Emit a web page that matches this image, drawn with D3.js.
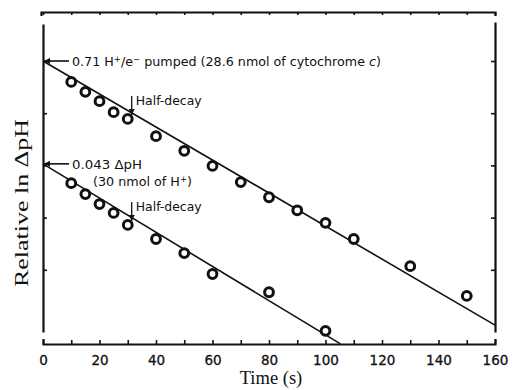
<!DOCTYPE html>
<html>
<head>
<meta charset="utf-8">
<script src="https://cdn.jsdelivr.net/npm/d3@7"></script>
<style>
  body { margin: 0; background: #fff; }
  svg { display: block; }
</style>
</head>
<body>
<div id="chart"></div>
<script>
// time points (s) and relative ln dpH
var timeUpper = [10, 15, 20, 25, 30, 40, 50, 60, 70, 80, 90, 100, 110, 130, 150];
var lnUpper = [4.60, 4.41, 4.23, 4.02, 3.89, 3.56, 3.28, 2.99, 2.68, 2.39, 2.14, 1.90, 1.59, 1.07, 0.50];
var timeLower = [10, 15, 20, 25, 30, 40, 50, 60, 80, 100];
var lnLower = [2.66, 2.45, 2.26, 2.09, 1.86, 1.59, 1.32, 0.92, 0.57, -0.17];

// fitted lines [time, value]
var fitUpper = [[0, 5.0], [160, -0.06]];
var fitLower = [[0, 3.03], [105.3, -0.42]];
var halfDecay = [[31.4, 3.89], [31.4, 1.86]];

var xTicks = d3.range(0, 161, 10);
var yTicks = [1, 2, 3, 4, 5];

var W = 512, H = 390;
var sans = "'DejaVu Sans', Verdana, sans-serif";
var serif = "'Liberation Serif', 'Times New Roman', serif";

var svg = d3.select("#chart")
  .append("svg")
  .attr("width", W)
  .attr("height", H);

var x = d3.scaleLinear().domain([0, 160]).range([43, 495]);
var y = d3.scaleLinear().domain([0, 5]).range([322, 61]);

// axes
var xBottom = d3.axisBottom(x)
  .tickValues(xTicks)
  .tickSizeInner(-4)
  .tickSizeOuter(-5)
  .tickPadding(11)
  .tickFormat(function(d) { return d % 20 === 0 ? d : ""; });

var gb = svg.append("g")
  .attr("transform", "translate(0,344)")
  .call(xBottom);
gb.selectAll("text")
  .style("font-family", sans)
  .style("font-size", "13.5px")
  .attr("fill", "#111")
  .attr("stroke", "#111")
  .attr("stroke-width", 0.3);

var xt = x.copy().range([41, 495]).domain([x.invert(41), 160]);
svg.append("g")
  .attr("transform", "translate(0,12)")
  .call(d3.axisTop(xt).tickValues(xTicks).tickSizeInner(-3).tickSizeOuter(-4).tickFormat(""));

var ya = y.copy().domain([y.invert(332), y.invert(24)]).range([332, 24]);
svg.append("g")
  .attr("transform", "translate(43,0)")
  .call(d3.axisLeft(ya).tickValues(yTicks).tickSizeInner(-4).tickSizeOuter(0).tickFormat(""));

var yr = y.copy().domain([y.invert(332), y.invert(22)]).range([332, 22]);
svg.append("g")
  .attr("transform", "translate(495,0)")
  .call(d3.axisRight(yr).tickValues(yTicks).tickSizeInner(-4).tickSizeOuter(0).tickFormat(""));

svg.selectAll(".domain").attr("stroke", "#111").attr("stroke-width", 2.2);
svg.selectAll(".tick line").attr("stroke", "#111").attr("stroke-width", 1.6);

// axis titles
svg.append("text")
  .attr("x", 271)
  .attr("y", 384)
  .attr("text-anchor", "middle")
  .style("font-family", serif)
  .style("font-size", "18.5px")
  .attr("fill", "#111")
  .text("Time (s)");

svg.append("text")
  .attr("transform", "translate(28,203) rotate(-90)")
  .attr("text-anchor", "middle")
  .attr("textLength", 168)
  .attr("lengthAdjust", "spacingAndGlyphs")
  .style("font-family", serif)
  .style("font-size", "19.5px")
  .attr("fill", "#111")
  .text("Relative ln \u0394pH");

// fit lines
var line = d3.line()
  .x(function(d) { return x(d[0]); })
  .y(function(d) { return y(d[1]); });

[fitUpper, fitLower].forEach(function(f) {
  svg.append("path")
    .attr("d", line(f))
    .attr("fill", "none")
    .attr("stroke", "#111")
    .attr("stroke-width", 1.6);
});

// points
function drawPoints(ts, vs) {
  svg.append("g")
    .selectAll("circle")
    .data(ts)
    .enter()
    .append("circle")
    .attr("cx", function(d) { return x(d); })
    .attr("cy", function(d, i) { return y(vs[i]); })
    .attr("r", 4.4)
    .attr("fill", "#fff")
    .attr("stroke", "#111")
    .attr("stroke-width", 3);
}
drawPoints(timeUpper, lnUpper);
drawPoints(timeLower, lnLower);

// arrow markers
var defs = svg.append("defs");
defs.append("marker")
  .attr("id", "ah")
  .attr("viewBox", "0 0 10 10")
  .attr("refX", 10)
  .attr("refY", 5)
  .attr("markerWidth", 7)
  .attr("markerHeight", 6)
  .attr("markerUnits", "userSpaceOnUse")
  .attr("orient", "auto")
  .append("path")
  .attr("d", "M0,0L10,5L0,10z")
  .attr("fill", "#111");

// intercept arrows
[fitUpper[0], fitLower[0]].forEach(function(p) {
  svg.append("line")
    .attr("x1", x(0) + 26)
    .attr("x2", x(0) + 1)
    .attr("y1", y(p[1]))
    .attr("y2", y(p[1]))
    .attr("stroke", "#111")
    .attr("stroke-width", 1.6)
    .attr("marker-end", "url(#ah)");
});

// half decay arrows
halfDecay.forEach(function(p) {
  svg.append("line")
    .attr("x1", x(p[0]))
    .attr("x2", x(p[0]))
    .attr("y1", y(p[1]) - 23)
    .attr("y2", y(p[1]) - 4)
    .attr("stroke", "#111")
    .attr("stroke-width", 1.3)
    .attr("marker-end", "url(#ah)");
  svg.append("text")
    .attr("x", x(p[0]) + 4)
    .attr("y", y(p[1]) - 14)
    .attr("textLength", 66)
    .attr("lengthAdjust", "spacingAndGlyphs")
    .style("font-family", sans)
    .style("font-size", "12px")
    .attr("fill", "#111")
    .text("Half-decay");
});

var t1 = svg.append("text")
  .attr("x", 72)
  .attr("y", y(fitUpper[0][1]) + 5)
  .attr("textLength", 309)
  .attr("lengthAdjust", "spacingAndGlyphs")
  .style("font-family", sans)
  .style("font-size", "12px")
  .attr("fill", "#111");
t1.append("tspan").text("0.71 H");
t1.append("tspan").attr("dy", -4).style("font-size", "8px").text("+");
t1.append("tspan").attr("dy", 4).text("/e");
t1.append("tspan").attr("dy", -4).style("font-size", "8px").text("\u2212");
t1.append("tspan").attr("dy", 4).text(" pumped (28.6 nmol of cytochrome ");
t1.append("tspan").style("font-style", "italic").text("c");
t1.append("tspan").text(")");

svg.append("text")
  .attr("x", 72)
  .attr("y", y(fitLower[0][1]) + 5)
  .attr("textLength", 70)
  .attr("lengthAdjust", "spacingAndGlyphs")
  .style("font-family", sans)
  .style("font-size", "12.5px")
  .attr("fill", "#111")
  .text("0.043 \u0394pH");

var t3 = svg.append("text")
  .attr("x", 93)
  .attr("y", y(fitLower[0][1]) + 22)
  .attr("textLength", 99)
  .attr("lengthAdjust", "spacingAndGlyphs")
  .style("font-family", sans)
  .style("font-size", "12px")
  .attr("fill", "#111");
t3.append("tspan").text("(30 nmol of H");
t3.append("tspan").attr("dy", -4).style("font-size", "8px").text("+");
t3.append("tspan").attr("dy", 4).text(")");
</script>
</body>
</html>
